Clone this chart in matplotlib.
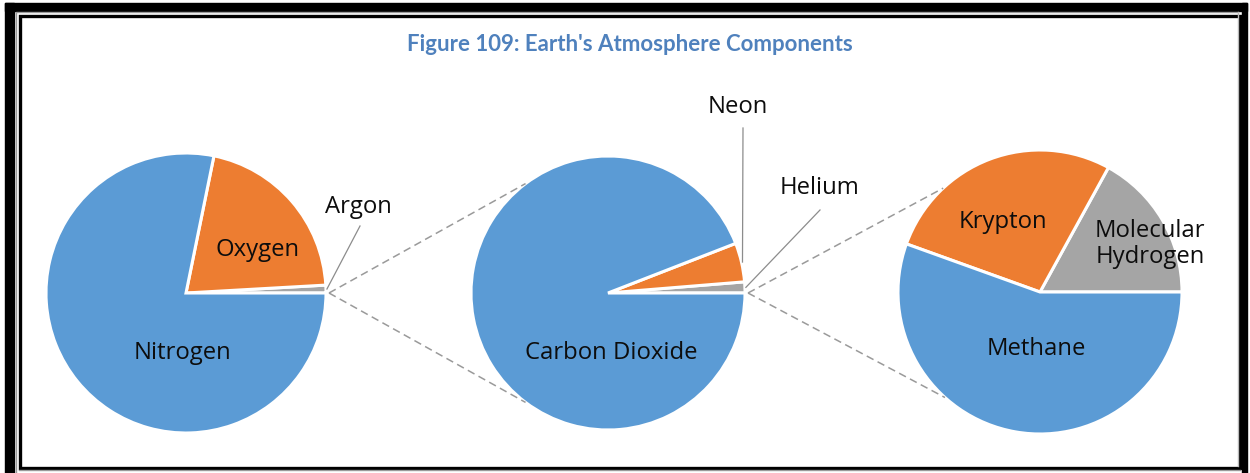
import numpy as np
import matplotlib.pyplot as plt
from matplotlib.patches import Rectangle

# data (percent of each pie)
air_labels = ["Argon", "Oxygen", "Nitrogen"]
air_values = [0.9, 20.9, 78.2]

trace_labels = ["Helium", "Neon", "Carbon Dioxide"]
trace_values = [1.3, 4.6, 94.1]

minor_labels = ["Molecular\nHydrogen", "Krypton", "Methane"]
minor_values = [17.0, 27.5, 55.5]

colors = ["#A5A5A5", "#ED7D31", "#5B9BD5"]

W, H = 1250, 473
fig = plt.figure(figsize=(W / 100, H / 100), dpi=100)
ax = fig.add_axes([0, 0, 1, 1])


def py(y):
    # picture y (down) -> axes y (up)
    return H - y


# pie layout in pixels: (cx, cy, r)
pies = [(186, 293, 140), (608, 293, 137), (1040, 292, 142)]
datasets = [air_values, trace_values, minor_values]

wedges_all = []
for (cx, cy, r), vals in zip(pies, datasets):
    w, _ = ax.pie(vals, colors=colors, startangle=0, counterclock=True,
                  center=(cx, py(cy)), radius=r, frame=True,
                  wedgeprops=dict(edgecolor="white", linewidth=2.2))
    wedges_all.append(w)


def edge_point(cx, cy, r, ang, extra=0):
    a = np.deg2rad(ang)
    return cx + (r + extra) * np.cos(a), py(cy) + (r + extra) * np.sin(a)


# dashed connectors between pies
conn_angles = [(127, 233), (133, 228)]
for i, (a_top, a_bot) in enumerate(conn_angles):
    cx, cy, r = pies[i]
    nx, ny, nr = pies[i + 1]
    sx, sy = cx + r + 3, py(cy)
    for a in (a_top, a_bot):
        ex, ey = edge_point(nx, ny, nr, a)
        ax.plot([sx, ex], [sy, ey], color="#9A9A9A", lw=1.1, ls=(0, (5, 3)))

txt = dict(fontsize=17.2, color="#0D0D0D", family="Open Sans",
           ha="center", va="center")

# labels inside slices
ax.text(258, py(250), "Oxygen", **txt)
ax.text(183, py(353), "Nitrogen", **txt)
ax.text(611, py(353), "Carbon Dioxide", **txt)
ax.text(1003, py(222), "Krypton", **txt)
ax.text(1150, py(244), "Molecular\nHydrogen", linespacing=1.1, **txt)
ax.text(1036, py(349), "Methane", **txt)


# outside labels with leader lines
def leader(pie_i, wedge_i, label, lx, ly, ex, ey):
    cx, cy, r = pies[pie_i]
    wd = wedges_all[pie_i][wedge_i]
    mid = (wd.theta1 + wd.theta2) / 2
    sx, sy = edge_point(cx, cy, r, mid, 1)
    ax.plot([sx, ex], [sy, py(ey)], color="#8C8C8C", lw=0.9)
    ax.text(lx, py(ly), label, **txt)


leader(0, 0, "Argon", 358, 207, 360, 226)
leader(1, 1, "Neon", 738, 107, 743, 128)
leader(1, 0, "Helium", 820, 188, 820, 210)

# title
ax.text(630, py(45), "Figure 109: Earth's Atmosphere Components",
        fontsize=16, fontweight="bold", color="#4F81BD", family="Lato",
        ha="center", va="center")

# frame
ax.add_patch(Rectangle((5, py(473)), 9, 470, color="black"))
ax.add_patch(Rectangle((5, py(11)), 1242, 8, color="black"))
ax.add_patch(Rectangle((1242, py(473)), 5, 470, color="black"))
ax.plot([15.5, 15.5, 1238], [py(472), py(12.5), py(12.5)], color="#9A9A9A", lw=1)
ax.plot([1238, 1238], [py(12.5), py(466)], color="#BBBBBB", lw=1)
ax.add_patch(Rectangle((19.5, py(467.5)), 1220, 451, fill=False,
                       edgecolor="black", lw=2.4))
ax.plot([19, 1240], [py(470), py(470)], color="#9A9A9A", lw=1)

ax.set_xlim(0, W)
ax.set_ylim(0, H)
ax.set_aspect("auto")
ax.axis("off")

plt.savefig("out.png", dpi=100)
